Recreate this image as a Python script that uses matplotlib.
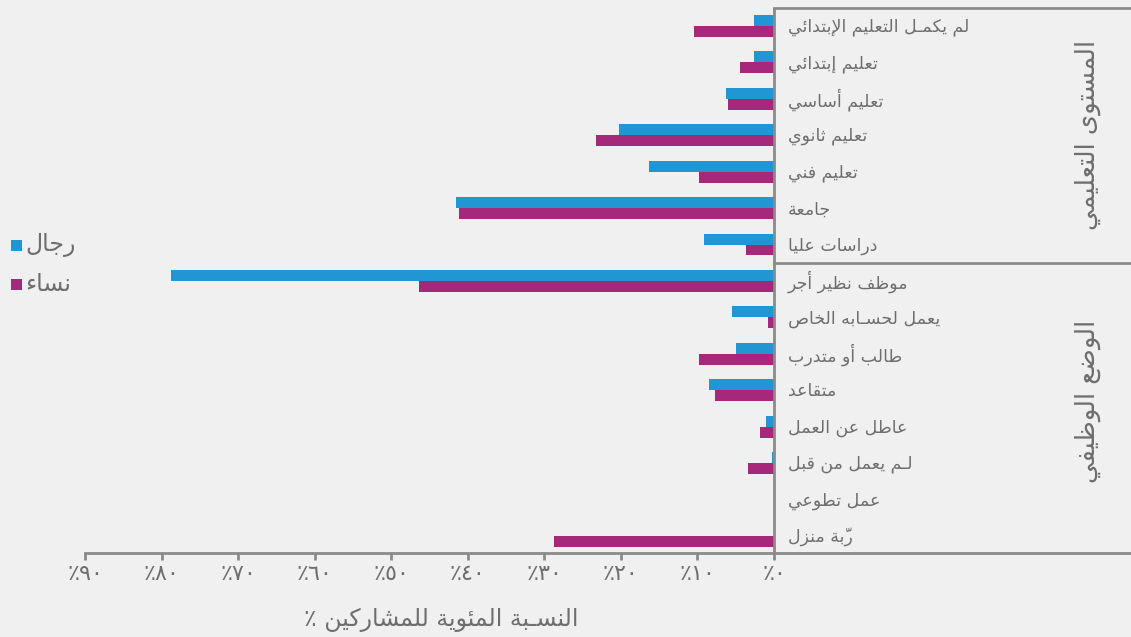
import matplotlib
matplotlib.use("Agg")
import matplotlib.pyplot as plt
from matplotlib.patches import Rectangle
import numpy as np

# ---------------- data ----------------
categories = [
    "لم يكمـل التعليم الإبتدائي",
    "تعليم إبتدائي",
    "تعليم أساسي",
    "تعليم ثانوي",
    "تعليم فني",
    "جامعة",
    "دراسات عليا",
    "موظف نظير أجر",
    "يعمل لحسـابه الخاص",
    "طالب أو متدرب",
    "متقاعد",
    "عاطل عن العمل",
    "لـم يعمل من قبل",
    "عمل تطوعي",
    "ربّة منزل",
]
men = [2.6, 2.6, 6.3, 20.2, 16.3, 41.6, 9.2, 78.8, 5.5, 5.0, 8.5, 1.0, 0.3, 0.0, 0.0]
women = [10.5, 4.5, 6.0, 23.2, 9.8, 41.1, 3.7, 46.4, 0.8, 9.8, 7.7, 1.8, 3.4, 0.0, 28.7]
group_labels = ["المستوى التعليمي", "الوضع الوظيفي"]
series_labels = ["رجال", "نساء"]
tick_values = [0, 10, 20, 30, 40, 50, 60, 70, 80, 90]
tick_labels = ["٪٠", "٪١٠", "٪٢٠", "٪٣٠", "٪٤٠", "٪٥٠", "٪٦٠", "٪٧٠", "٪٨٠", "٪٩٠"]
x_label = "النسـبة المئوية للمشاركين ٪"

# ---------------- arabic shaping (presentation forms + visual order) ----------------
_TABLE = [
    ("\u0621", 0xFE80, 1), ("\u0622", 0xFE81, 2), ("\u0623", 0xFE83, 2),
    ("\u0624", 0xFE85, 2), ("\u0625", 0xFE87, 2), ("\u0626", 0xFE89, 4),
    ("\u0627", 0xFE8D, 2), ("\u0628", 0xFE8F, 4), ("\u0629", 0xFE93, 2),
    ("\u062A", 0xFE95, 4), ("\u062B", 0xFE99, 4), ("\u062C", 0xFE9D, 4),
    ("\u062D", 0xFEA1, 4), ("\u062E", 0xFEA5, 4), ("\u062F", 0xFEA9, 2),
    ("\u0630", 0xFEAB, 2), ("\u0631", 0xFEAD, 2), ("\u0632", 0xFEAF, 2),
    ("\u0633", 0xFEB1, 4), ("\u0634", 0xFEB5, 4), ("\u0635", 0xFEB9, 4),
    ("\u0636", 0xFEBD, 4), ("\u0637", 0xFEC1, 4), ("\u0638", 0xFEC5, 4),
    ("\u0639", 0xFEC9, 4), ("\u063A", 0xFECD, 4), ("\u0641", 0xFED1, 4),
    ("\u0642", 0xFED5, 4), ("\u0643", 0xFED9, 4), ("\u0644", 0xFEDD, 4),
    ("\u0645", 0xFEE1, 4), ("\u0646", 0xFEE5, 4), ("\u0647", 0xFEE9, 4),
    ("\u0648", 0xFEED, 2), ("\u0649", 0xFEEF, 2), ("\u064A", 0xFEF1, 4),
    ("\u0644\u0622", 0xFEF5, 2), ("\u0644\u0623", 0xFEF7, 2),
    ("\u0644\u0625", 0xFEF9, 2), ("\u0644\u0627", 0xFEFB, 2),
]
FORMS = {k: (start, n) for k, start, n in _TABLE}
TATWEEL = "\u0640"


def _is_mark(c):
    return 0x064B <= ord(c) <= 0x0652


def _jtype(tok):
    if tok == TATWEEL:
        return "D"
    if tok in FORMS:
        n = FORMS[tok][1]
        return "D" if n == 4 else ("R" if n == 2 else "U")
    return "U"


def shape(text):
    toks = []
    i = 0
    while i < len(text):
        c = text[i]
        if c == "\u0644" and i + 1 < len(text) and (c + text[i + 1]) in FORMS:
            toks.append(c + text[i + 1])
            i += 2
            continue
        toks.append(c)
        i += 1
    clusters = []
    for t in toks:
        if len(t) == 1 and _is_mark(t) and clusters:
            clusters[-1][1].append(t)
        else:
            clusters.append([t, []])
    out = []
    for k, (t, marks) in enumerate(clusters):
        jt = _jtype(t)
        prev_t = clusters[k - 1][0] if k > 0 else None
        next_t = clusters[k + 1][0] if k + 1 < len(clusters) else None
        jp = prev_t is not None and _jtype(prev_t) == "D" and jt in ("D", "R")
        jn = next_t is not None and jt == "D" and _jtype(next_t) in ("D", "R")
        if t == TATWEEL or t not in FORMS:
            g = t
        else:
            start, n = FORMS[t]
            if n == 1:
                g = chr(start)
            elif n == 2:
                g = chr(start + 1) if jp else chr(start)
            else:
                if jp and jn:
                    g = chr(start + 3)
                elif jp:
                    g = chr(start + 1)
                elif jn:
                    g = chr(start + 2)
                else:
                    g = chr(start)
        out.append(g + "".join(marks))
    return "".join(reversed(out))


# ---------------- style ----------------
BG = "#f0f0f0"
BLUE = "#2196d3"
MAGENTA = "#a6287a"
TXT = "#6e6e6e"
LINE = "#8a8a8a"
FONT = ["DejaVu Sans"]

plt.rcParams["font.family"] = FONT

W, H = 1131, 637
fig = plt.figure(figsize=(W / 100, H / 100), dpi=100, facecolor=BG)

px0, px90 = 774.0, 85.0
ppu = (px0 - px90) / 90.0
x_right = -(W - px0) / ppu

ax = fig.add_axes([px90 / W, 1 - 553 / H, 1 - px90 / W, (553 - 8) / H])
ax.set_facecolor(BG)

n = len(categories)
y = np.arange(n)
bh = 0.30
ax.barh(y - bh / 2, men, height=bh, color=BLUE, linewidth=0)
ax.barh(y + bh / 2, women, height=bh, color=MAGENTA, linewidth=0)

y_top = -0.494
y_bot = 14.467
ax.set_xlim(90, x_right)
ax.set_ylim(y_bot, y_top)

for s in ["top", "left", "right"]:
    ax.spines[s].set_visible(False)
ax.spines["bottom"].set_color(LINE)
ax.spines["bottom"].set_linewidth(2)

ax.set_yticks([])
ax.set_xticks(tick_values)
ax.set_xticklabels(tick_labels)
ax.tick_params(axis="x", direction="out", length=5, width=2, color=LINE,
               labelsize=16, labelcolor=TXT, pad=3)

# right box
ax.plot([0, 0], [y_top, y_bot], color=LINE, lw=2, solid_capstyle="butt", clip_on=False)
ax.plot([0, x_right], [y_top, y_top], color=LINE, lw=2, clip_on=False)
ax.plot([0, x_right], [6.5, 6.5], color=LINE, lw=2, clip_on=False)

lab_x = -(788 - px0) / ppu
for yi, c in zip(y, categories):
    ax.text(lab_x, yi + 0.03, shape(c), ha="left", va="center", fontsize=12.5,
            color=TXT)

grp_x = -(1088 - px0) / ppu
ax.text(grp_x, 3.0, shape(group_labels[0]), rotation=90, ha="center", va="center",
        fontsize=18.5, color=TXT, rotation_mode="anchor")
ax.text(grp_x, 10.3, shape(group_labels[1]), rotation=90, ha="center", va="center",
        fontsize=18.5, color=TXT, rotation_mode="anchor")

# legend
for (cy, col, lab) in [(245, BLUE, series_labels[0]), (284, MAGENTA, series_labels[1])]:
    fig.add_artist(Rectangle((11 / W, 1 - (cy + 5.5) / H), 11 / W, 11 / H,
                             transform=fig.transFigure, color=col, lw=0))
    fig.text(25 / W, 1 - cy / H, shape(lab), ha="left", va="center", fontsize=17,
             color=TXT)

fig.text(441 / W, 1 - 620 / H, shape(x_label), ha="center", va="center",
         fontsize=17, color=TXT)

fig.savefig("out.png", dpi=100, facecolor=BG)
